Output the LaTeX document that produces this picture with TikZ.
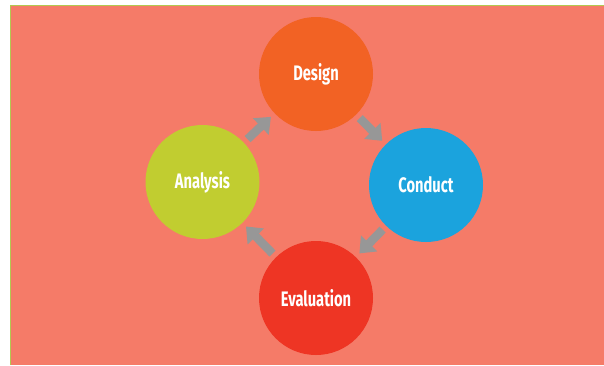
\documentclass[tikz,border=0pt]{standalone}
\usepackage{fontspec}
\newfontfamily\cyclefont{Fira Sans}[FakeStretch=0.7]
\usetikzlibrary{arrows.meta}
\definecolor{bgsalmon}{HTML}{F57B68}
\definecolor{edgegreen}{HTML}{B3C850}
\definecolor{designorange}{HTML}{F26224}
\definecolor{conductblue}{HTML}{1BA3DD}
\definecolor{evalred}{HTML}{EE3524}
\definecolor{analysisgreen}{HTML}{C1CD30}
\definecolor{arrowgray}{HTML}{979797}
\tikzset{
  stage/.style={circle,minimum size=114pt,inner sep=0pt,text=white,
    font=\cyclefont\bfseries\fontsize{21}{23}\selectfont},
  cyclearrow/.style={draw=arrowgray,line width=8.5pt,shorten <=5pt,shorten >=5pt,
    -{Triangle[width=22pt,length=14pt]}}
}
\begin{document}
\begin{tikzpicture}[x=1pt,y=-1pt]
	\useasboundingbox (0,0) rectangle (604,365);
	% Background panel
	\fill[bgsalmon] (10.5,5.5) rectangle (604,365);
	\draw[edgegreen,line width=1.4pt] (10.5,365) -- (10.5,5.5) -- (604,5.5);
	% The four stages
	\node[stage,fill=designorange] (design) at (316,74) {Design};
	\node[stage,fill=conductblue] (conduct) at (426,185) {Conduct};
	\node[stage,fill=evalred] (evaluation) at (316,298) {Evaluation};
	\node[stage,fill=analysisgreen] (analysis) at (202.5,182) {Analysis};
	% Arrows of the cycle
	\draw[cyclearrow] (analysis) -- (design);
	\draw[cyclearrow] (design) -- (conduct);
	\draw[cyclearrow] (conduct) -- (evaluation);
	\draw[cyclearrow] (evaluation) -- (analysis);
\end{tikzpicture}
\end{document}
